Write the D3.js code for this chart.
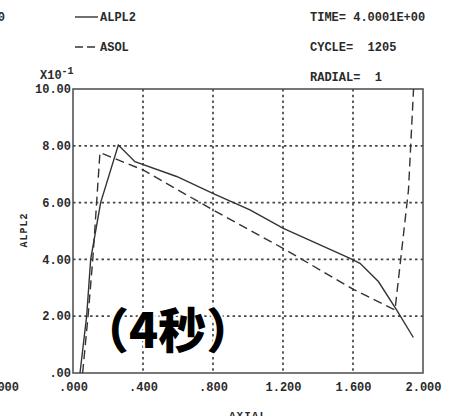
<!DOCTYPE html>
<html>
<head>
<meta charset="utf-8">
<script src="https://cdn.jsdelivr.net/npm/d3@7/dist/d3.min.js"></script>
<style>
  html, body { margin: 0; padding: 0; background: #fff; }
  svg { display: block; }
  .mono { font-family: "Liberation Mono", "DejaVu Sans Mono", monospace; font-weight: bold; fill: #2a2a2a; white-space: pre; }
</style>
</head>
<body>
<svg id="chart" width="457" height="416"></svg>
<script>
// Axial profile of ALPL2 (computed) and ASOL (reference) at t = 4 s
const alpl2X = [0.040, 0.078, 0.101, 0.158, 0.259, 0.354, 0.592, 0.802, 1.011, 1.202, 1.583, 1.640, 1.745, 1.849, 1.945];
const alpl2Y = [0.00, 2.00, 4.00, 6.00, 8.03, 7.44, 6.92, 6.32, 5.74, 5.09, 4.04, 3.86, 3.22, 2.22, 1.25];

const asolX = [0.055, 0.086, 0.113, 0.135, 0.154, 0.400, 0.800, 1.200, 1.600, 1.840, 1.917, 1.946];
const asolY = [0.00, 2.00, 4.00, 6.00, 7.76, 7.15, 5.74, 4.39, 2.95, 2.22, 6.44, 10.00];

const xTicks = [0, 0.4, 0.8, 1.2, 1.6, 2.0];
const xTickLabels = [".000", ".400", ".800", "1.200", "1.600", "2.000"];
const yTicks = [0, 2, 4, 6, 8, 10];
const yTickLabels = [".00", "2.00", "4.00", "6.00", "8.00", "10.00"];

const infoLines = ["TIME= 4.0001E+00", "CYCLE=  1205", "RADIAL=  1"];
const legendNames = ["ALPL2", "ASOL"];

const svg = d3.select("#chart");
const plotL = 73, plotR = 423, plotT = 89, plotB = 373;

const x = d3.scaleLinear().domain([0, 2.0]).range([plotL, plotR]);
const y = d3.scaleLinear().domain([0, 10]).range([plotB, plotT]);

const ink = "#333";

// dotted grid
const grid = svg.append("g");
grid.selectAll("line.gx").data(xTicks.slice(1, -1)).join("line")
  .attr("x1", d => x(d)).attr("x2", d => x(d))
  .attr("y1", plotT).attr("y2", plotB)
  .attr("stroke", "#444").attr("stroke-width", 1.7).attr("stroke-dasharray", "2.5,3.2");
grid.selectAll("line.gy").data(yTicks.slice(1, -1)).join("line")
  .attr("y1", d => y(d)).attr("y2", d => y(d))
  .attr("x1", plotL).attr("x2", plotR)
  .attr("stroke", "#444").attr("stroke-width", 1.7).attr("stroke-dasharray", "2.5,3.2");

// frame
svg.append("rect")
  .attr("x", plotL).attr("y", plotT).attr("width", plotR - plotL).attr("height", plotB - plotT)
  .attr("fill", "none").attr("stroke", "#555").attr("stroke-width", 1.6);

// axes as text labels only (the plotter style has no tick marks)
const xAxis = d3.axisBottom(x).tickValues(xTicks).tickFormat((d, i) => xTickLabels[i]).tickSize(0).tickPadding(0);
const gx = svg.append("g").attr("transform", `translate(0,${plotB + 14})`).call(xAxis);
gx.select(".domain").remove();
gx.selectAll("text").attr("class", "mono").attr("font-size", 12).attr("dy", "0.32em")
  .attr("fill", "#2a2a2a");

const yAxis = d3.axisLeft(y).tickValues(yTicks).tickFormat((d, i) => yTickLabels[i]).tickSize(0).tickPadding(0);
const gy = svg.append("g").attr("transform", `translate(${plotL - 2},0)`).call(yAxis);
gy.select(".domain").remove();
gy.selectAll("text").attr("class", "mono").attr("font-size", 12).attr("dy", "0.3em")
  .attr("fill", "#2a2a2a");

// exponent of the y scale
const exp = svg.append("text").attr("class", "mono").attr("x", 40).attr("y", 79).attr("font-size", 12);
exp.append("tspan").text("X10");
exp.append("tspan").attr("dy", -5).attr("font-size", 10).text("-1");

// axis titles
svg.append("text").attr("class", "mono").attr("font-size", 10).attr("letter-spacing", 1)
  .attr("text-anchor", "middle")
  .attr("transform", `translate(27,230) rotate(-90)`).text("ALPL2");
svg.append("text").attr("class", "mono").attr("font-size", 11).attr("letter-spacing", 1)
  .attr("text-anchor", "middle").attr("x", (plotL + plotR) / 2).attr("y", 419).text("AXIAL");

// curves
const line = d3.line().x(d => x(d[0])).y(d => y(d[1]));
svg.append("path").datum(d3.zip(asolX, asolY))
  .attr("d", line).attr("fill", "none").attr("stroke", ink).attr("stroke-width", 1.4)
  .attr("stroke-dasharray", "9,5");
svg.append("path").datum(d3.zip(alpl2X, alpl2Y))
  .attr("d", line).attr("fill", "none").attr("stroke", ink).attr("stroke-width", 1.4);

// legend
const leg = svg.append("g");
leg.append("line").attr("x1", 75).attr("x2", 98).attr("y1", 17).attr("y2", 17)
  .attr("stroke", ink).attr("stroke-width", 1.4);
leg.append("line").attr("x1", 75).attr("x2", 98).attr("y1", 47).attr("y2", 47)
  .attr("stroke", ink).attr("stroke-width", 1.4).attr("stroke-dasharray", "8,4");
leg.selectAll("text").data(legendNames).join("text")
  .attr("class", "mono").attr("font-size", 12)
  .attr("x", 100).attr("y", (d, i) => 21 + i * 30).text(d => d);

// run info
svg.selectAll("text.info").data(infoLines).join("text")
  .attr("class", "mono info").attr("font-size", 12)
  .attr("x", 310).attr("y", (d, i) => 21 + i * 30).text(d => d);

// fragments of the neighbouring panel at the left edge
svg.append("text").attr("class", "mono").attr("font-size", 12).attr("text-anchor", "end")
  .attr("x", 5).attr("y", 21).text("E+00");
svg.append("text").attr("class", "mono").attr("font-size", 12).attr("text-anchor", "end")
  .attr("x", 19).attr("y", 391).text("2.000");

// time stamp caption
svg.append("text")
  .attr("x", 81).attr("y", 348)
  .attr("font-family", "'Noto Sans CJK SC', 'Noto Sans CJK JP', sans-serif")
  .attr("font-weight", 900).attr("font-size", 48)
  .attr("fill", "#000").attr("stroke", "#fff").attr("stroke-width", 4)
  .attr("paint-order", "stroke")
  .text("（4秒）");
</script>
</body>
</html>
